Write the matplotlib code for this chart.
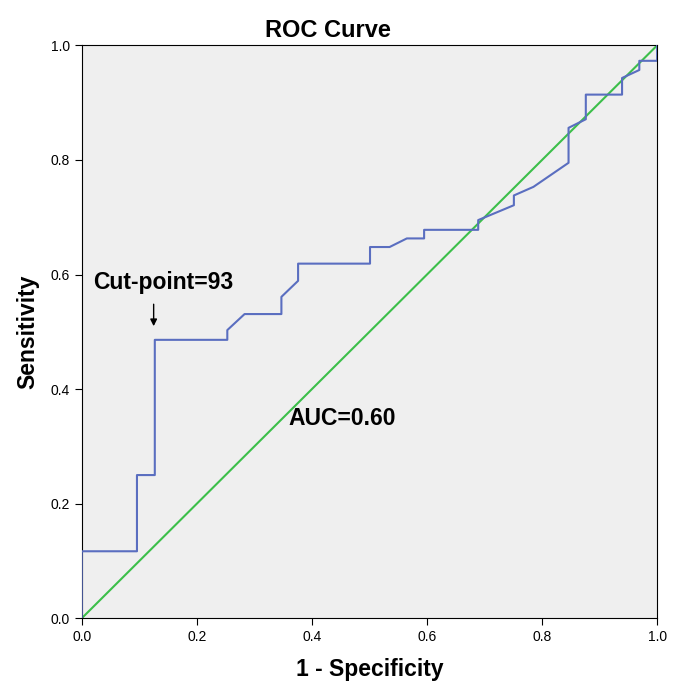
import matplotlib
matplotlib.use("Agg")
import matplotlib.pyplot as plt
plt.rcParams['font.family'] = ['Liberation Sans', 'DejaVu Sans']

fpr = [0, 0, 0.096, 0.096, 0.127, 0.127, 0.253, 0.253, 0.283, 0.347, 0.347, 0.376, 0.376, 0.501, 0.501,
       0.535, 0.565, 0.595, 0.595, 0.689, 0.689, 0.751, 0.751, 0.785, 0.846, 0.846, 0.876, 0.876, 0.939, 0.939,
       0.969, 0.969, 1.0, 1.0]
tpr = [0, 0.117, 0.117, 0.25, 0.25, 0.486, 0.486, 0.503, 0.531, 0.531, 0.561, 0.589, 0.619, 0.619, 0.648,
       0.648, 0.663, 0.663, 0.678, 0.678, 0.695, 0.721, 0.738, 0.753, 0.795, 0.856, 0.871, 0.914, 0.914, 0.943,
       0.957, 0.973, 0.973, 1.0]
ticks = [0.0, 0.2, 0.4, 0.6, 0.8, 1.0]

fig = plt.figure(figsize=(6.81, 6.87), dpi=100)
ax = fig.add_axes([0.120, 0.100, 0.845, 0.834])
ax.set_facecolor("#efefef")
ax.plot([0, 1], [0, 1], color="#3cbf4a", lw=1.5, zorder=2)
ax.plot(fpr, tpr, color="#5a6ec0", lw=1.5, zorder=3)
ax.set_xlim(0, 1)
ax.set_ylim(0, 1)
ax.set_xticks(ticks)
ax.set_yticks(ticks)
ax.set_xticklabels([f"{t:.1f}" for t in ticks], fontsize=10)
ax.set_yticklabels([f"{t:.1f}" for t in ticks], fontsize=10)
ax.tick_params(direction="out", length=5)
ax.set_xlabel("1 - Specificity", fontsize=16.5, fontweight="bold", labelpad=10)
ax.set_ylabel("Sensitivity", fontsize=16.5, fontweight="bold", labelpad=8)
ax.set_title("ROC Curve", fontsize=17, fontweight="bold", pad=6, x=0.428)
ax.text(0.019, 0.586, "Cut-point=93", fontsize=16.5, fontweight="bold", va="center")
ax.annotate("", xy=(0.125, 0.505), xytext=(0.125, 0.553),
            arrowprops=dict(arrowstyle="-|>", color="black", lw=1, mutation_scale=10))
ax.text(0.359, 0.349, "AUC=0.60", fontsize=16.5, fontweight="bold", va="center")
fig.savefig("out.png", dpi=100, facecolor="white")
